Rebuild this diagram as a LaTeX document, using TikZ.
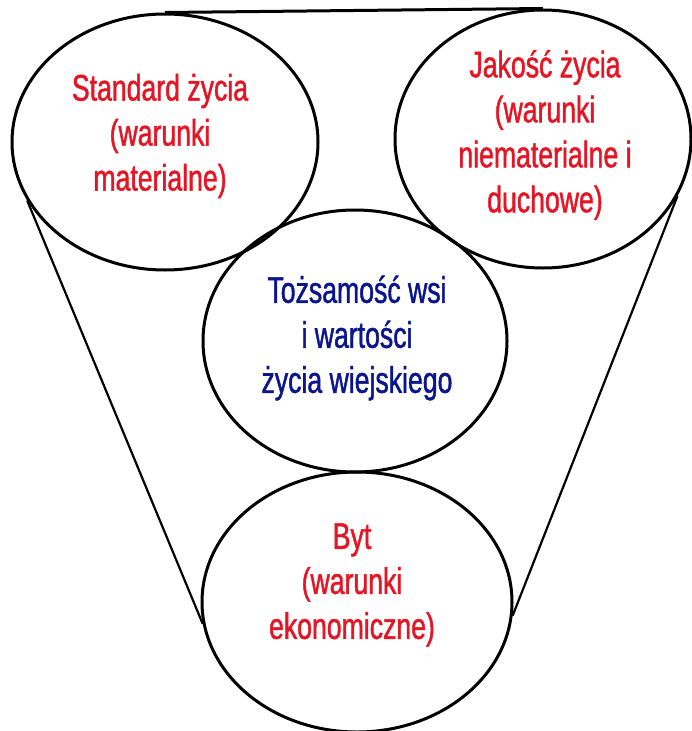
\documentclass[tikz,border=0pt]{standalone}
\usepackage{fontspec}
\newfontfamily\labfont[FakeStretch=0.72,FakeBold=1.2]{Liberation Sans}
\usetikzlibrary{shapes.geometric}
\definecolor{lblred}{RGB}{228,22,38}
\definecolor{lblblue}{RGB}{12,22,140}
\tikzset{
  oval/.style={ellipse, draw=black, line width=3pt, inner sep=0pt,
    minimum width=#1},
  lbl/.style={inner sep=0pt, align=center,
    font=\labfont\fontsize{37}{45}\selectfont},
  conn/.style={draw=black, line width=2.2pt},
}
\begin{document}
\begin{tikzpicture}[x=1pt,y=-1pt]
\useasboundingbox (0,0) rectangle (692,731);
% ellipses
\node[oval=306pt, minimum height=256pt] (L) at (165,142) {};
\node[oval=296pt, minimum height=258pt] (R) at (543,139) {};
\node[oval=304pt, minimum height=262pt] (C) at (355,341) {};
\node[oval=310pt, minimum height=260pt] (B) at (357,602) {};
% connectors
\draw[conn, line width=3pt] (L.90) -- (R.90);
\draw[conn] (L.203) -- (B.188);
\draw[conn] (R.337) -- (B.355);
% texts
\node[lbl, text=lblred] (Lt) at (160,136) {Standard życia\\(warunki\\materialne)};
\node[lbl, text=lblred] (Rt) at (545,135) {Jakość życia\\(warunki\\niematerialne i\\duchowe)};
\node[lbl, text=lblblue] (Ct) at (357,338) {Tożsamość wsi\\i wartości\\życia wiejskiego};
\node[lbl, text=lblred] (Bt) at (352,585) {Byt\\(warunki\\ekonomiczne)};
\end{tikzpicture}
\end{document}
